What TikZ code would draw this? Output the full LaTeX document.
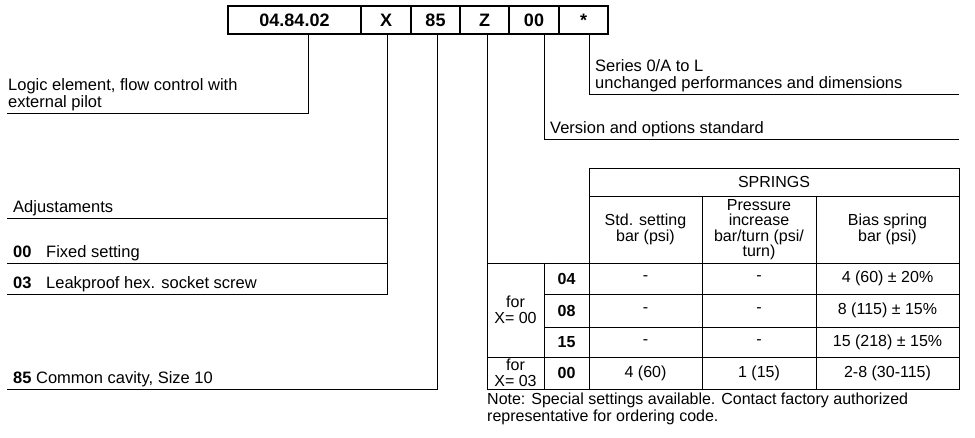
\documentclass[tikz,border=0pt]{standalone}
\usepackage{fontspec}
\setmainfont{Liberation Sans}
\usetikzlibrary{positioning}
\tikzset{
	codebox/.style={draw=black,line width=2.4pt,minimum height=28pt,inner sep=0pt,outer sep=0pt,
		font=\fontsize{18}{18}\selectfont\bfseries},
	leader/.style={black,line width=0.9pt},
	lbl/.style={inner xsep=6pt,inner ysep=2pt,align=left,anchor=south west,
		font=\fontsize{16.5}{16.5}\selectfont},
	cell/.style={inner sep=0pt,align=center,font=\fontsize{16}{15.5}\selectfont}
}

\begin{document}
\begin{tikzpicture}[x=1pt,y=-1pt]
\useasboundingbox (0,0) rectangle (975,438);
%Code
\node[codebox,minimum width=133pt] (base) at (294.5,20) {04.84.02};
\node[codebox,minimum width=50pt,right=0pt of base] (bX) {X};
\node[codebox,minimum width=49pt,right=0pt of bX] (b85) {85};
\node[codebox,minimum width=49pt,right=0pt of b85] (bZ) {Z};
\node[codebox,minimum width=50pt,right=0pt of bZ] (b00) {00};
\node[codebox,minimum width=49pt,right=0pt of b00] (bS) {*};

%Labels left
\node[lbl,inner xsep=1pt] (logic) at (7,113) {Logic element, flow control with\\external pilot};
\node[lbl] (adj) at (7,218) {Adjustaments};
\node[lbl] (fix) at (7,263) {\makebox[33pt][l]{\bfseries 00}Fixed setting};
\node[lbl] (leak) at (7,294) {\makebox[33pt][l]{\bfseries 03}Leakproof hex. socket screw};
\node[lbl] (cav) at (7,389) {{\bfseries 85} Common cavity, Size 10};

%Labels right
\coordinate (serR) at (959,94);
\coordinate (verR) at (959,139);
\node[lbl] (series) at (589,94) {Series 0/A to L\\unchanged performances and dimensions};
\node[lbl] (version) at (544,139) {Version and options standard};

%Leaders
\coordinate (xdrop) at ([xshift=1pt]bX.south);
\coordinate (tl) at (487,389);
\draw[leader] ([xshift=13.5pt]base.south) |- (logic.south west);
\draw[leader] (xdrop) |- (leak.south west);
\draw[leader] (adj.south west) -- (adj.south west -| xdrop);
\draw[leader] (fix.south west) -- (fix.south west -| xdrop);
\draw[leader] ([xshift=1.5pt]b85.south) |- (cav.south west);
\draw[leader] ([xshift=2.5pt]bZ.south) -- (tl);
\draw[leader] ([xshift=10pt]b00.south) |- (verR);
\draw[leader] ([xshift=5.5pt]bS.south) |- (serR);

%Springs table
\draw[leader] (589,168) -- (959,168) -- (959,389) -- (tl);
\draw[leader] (589,196) -- (959,196);
\draw[leader] (589,168) -- (589,389);
\draw[leader] (487,263) -- (959,263);
\draw[leader] (487,357) -- (959,357);
\foreach \y in {294,327} \draw[leader] (544,\y) -- (959,\y);
\foreach \x in {702,816} \draw[leader] (\x,196) -- (\x,389);
\draw[leader] (544,263) -- (544,389);

\node[cell] (springs) at (774,182) {SPRINGS};
\node[cell] (hstd) at (645.5,229.5) {Std. setting\\bar (psi)};
\node[cell] (hpress) at (759,229.5) {Pressure\\increase\\bar/turn (psi/\\turn)};
\node[cell] (hbias) at (887.5,229.5) {Bias spring\\bar (psi)};

\node[cell,font=\fontsize{16}{16}\selectfont] (for00) at (515.5,310) {for\\X= 00};
\node[cell,font=\fontsize{16}{16}\selectfont] (for03) at (515.5,373) {for\\X= 03};

\foreach \r/\y/\s/\p/\b in {04/278.5/-/-/4 (60) ± 20\%,
	08/310.5/-/-/8 (115) ± 15\%,
	15/342/-/-/15 (218) ± 15\%,
	00/373/4 (60)/1 (15)/2-8 (30-115)}{
	\node[cell,font=\fontsize{16}{16}\selectfont\bfseries] (k\r) at (566.5,\y) {\r};
	\node[cell] (s\r) at (645.5,\y) {\s};
	\node[cell] (p\r) at (759,\y) {\p};
	\node[cell] (b\r) at (887.5,\y) {\b};
}

\node[lbl,anchor=north west,inner xsep=0pt,inner ysep=0pt,font=\fontsize{16}{16.5}\selectfont] (note) at (487,393)
	{Note: Special settings available. Contact factory authorized\\representative for ordering code.};
\end{tikzpicture}
\end{document}
